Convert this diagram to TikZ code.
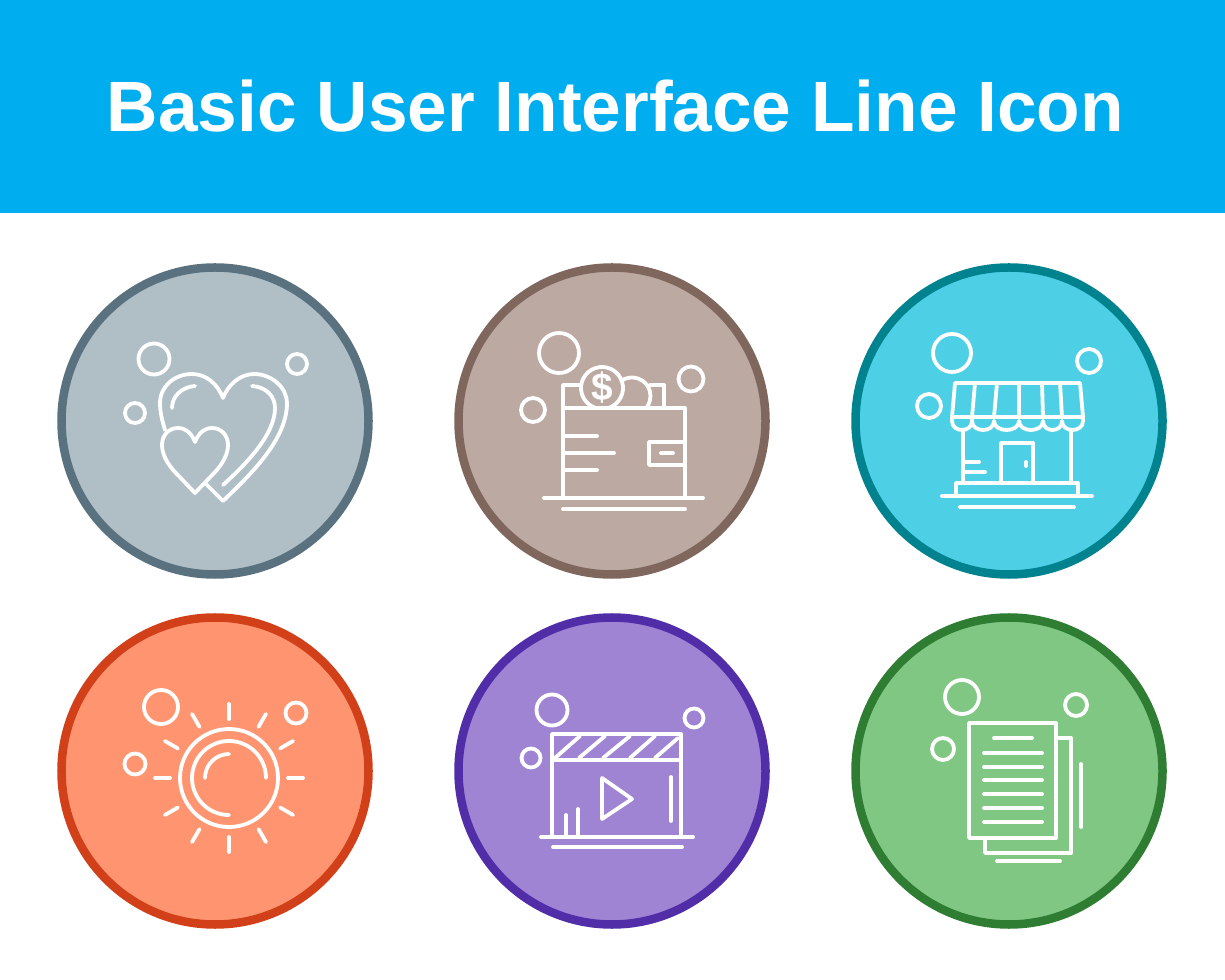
\documentclass[tikz,border=0pt]{standalone}
\usepackage{fontspec}
\setmainfont{Liberation Sans}
\usetikzlibrary{calc}
\definecolor{bandblue}{HTML}{00AEEF}
\tikzset{
	badge/.style={line width=0.085cm},
	iconline/.style={draw=white, line width=0.038cm, line cap=round, line join=round}
}
\def\ringarc(#1)(#2:#3:#4){\draw[iconline] ($(#1)+({#4*cos(#2)},{#4*sin(#2)})$) arc (#2:#3:#4);}
\begin{document}
\begin{tikzpicture}[x=0.01cm, y=-0.01cm]
		%%%%% BAND %%%%%
		\useasboundingbox (0, 0) rectangle (1225, 980);
		\fill[white] (0, 0) rectangle (1225, 980);
		\fill[bandblue] (0, 0) rectangle (1225, 213);
		\node[text=white, font=\fontsize{20.25pt}{24pt}\bfseries, inner sep=0pt] (title) at (615.5, 106) {Basic User Interface Line Icon};
		
		%%%%% BADGES %%%%%
		\foreach \cx/\cy/\fillcol/\edgecol in {215/421/B0BEC5/5A7280, 612/421/BBA9A2/80675D, 1009/421/4DD0E5/00838F, 215/771/FF9570/D2401A, 612/771/A084D4/512DA8, 1009/771/81C784/2E7D32}{
			\definecolor{fillnow}{HTML}{\fillcol}
			\definecolor{edgenow}{HTML}{\edgecol}
			\draw[badge, fill=fillnow, draw=edgenow] (\cx, \cy) circle (153.5);
		}
		
		%%%%% HEARTS %%%%%
		\begin{scope}[iconline]
		\draw (154, 359) circle (15.5);
		\draw (297, 364) circle (10);
		\draw (135, 413) circle (10);
		\draw (165, 430) .. controls (162, 420) and (160, 412) .. (160, 403) .. controls (160, 386) and (175, 374) .. (192, 374) .. controls (207, 374) and (218, 385) .. (223, 398) .. controls (228, 385) and (240, 374) .. (254, 374) .. controls (272, 374) and (287, 388) .. (287, 403) .. controls (287, 440) and (250, 475) .. (223, 501) -- (206, 484);
		\draw (252, 386) .. controls (266, 387) and (275, 396) .. (275, 408) .. controls (275, 435) and (245, 465) .. (223, 485);
		\draw (195, 386) .. controls (182, 387) and (172, 396) .. (172, 408);
		\draw (195, 493) -- (174, 471) .. controls (168, 464) and (162, 455) .. (162, 445) .. controls (162, 435) and (169, 428) .. (178, 428) .. controls (186, 428) and (192, 434) .. (195, 442) .. controls (198, 434) and (204, 428) .. (212, 428) .. controls (221, 428) and (228, 435) .. (228, 445) .. controls (228, 455) and (222, 464) .. (216, 471) -- cycle;
		\end{scope}
		
		%%%%% WALLET %%%%%
		\begin{scope}[iconline]
		\draw (559, 353) circle (20);
		\draw (691, 379) circle (12.5);
		\draw (533, 410) circle (12);
		\draw (563, 498) -- (563, 385) -- (580, 385);
		\draw (650, 385) -- (664, 385) -- (664, 407);
		\draw (563, 408) -- (685, 408) -- (685, 498);
		\draw (544, 498) -- (703, 498);
		\draw (563, 509) -- (685, 509);
		\draw (563, 436) -- (597, 436);
		\draw (563, 453) -- (614, 453);
		\draw (563, 470) -- (597, 470);
		\draw (685, 442) -- (649, 442) -- (649, 465) -- (685, 465);
		\draw (661, 453) -- (673, 453);
		\ringarc(602, 388)(72:-252:21)
		\ringarc(632, 396)(-125:35:18.5)
		\node[text=white, font=\fontsize{11pt}{11pt}\bfseries, inner sep=0pt] (dollar) at (602, 388) {\$};
		\end{scope}
		
		%%%%% SHOP %%%%%
		\begin{scope}[iconline]
		\draw (952, 353) circle (19);
		\draw (1089, 361) circle (12);
		\draw (929, 406) circle (12);
		\draw (955, 383) -- (1080, 383) -- (1083, 417) -- (952, 417) -- cycle;
		\draw (975, 383) -- (972, 417);
		\draw (997, 383) -- (994, 417);
		\draw (1019, 383) -- (1019, 417);
		\draw (1042, 383) -- (1043, 417);
		\draw (1060, 383) -- (1062, 417);
		\draw (952, 417) -- (952, 421) .. controls (952, 433) and (972, 433) .. (972, 421) -- (972, 417);
		\draw (972, 421) .. controls (972, 433) and (994, 433) .. (994, 421);
		\draw (994, 421) .. controls (994, 433) and (1019, 433) .. (1019, 421);
		\draw (1019, 421) .. controls (1019, 433) and (1043, 433) .. (1043, 421);
		\draw (1043, 421) .. controls (1043, 433) and (1062, 433) .. (1062, 421);
		\draw (1062, 421) .. controls (1062, 433) and (1083, 433) .. (1083, 421) -- (1083, 417);
		\draw (963, 431) -- (963, 483);
		\draw (1071, 431) -- (1071, 483);
		\draw (1001, 483) -- (1001, 443) -- (1033, 443) -- (1033, 483);
		\draw (1026, 462) -- (1026, 466);
		\draw (963, 462) -- (979, 462);
		\draw (963, 472) -- (985, 472);
		\draw (956, 496) -- (956, 483) -- (1078, 483) -- (1078, 496);
		\draw (942, 496) -- (1092, 496);
		\draw (960, 507) -- (1074, 507);
		\end{scope}
		
		%%%%% SUN %%%%%
		\begin{scope}[iconline]
		\draw (161, 707) circle (17);
		\draw (296, 713) circle (10.5);
		\draw (135, 764) circle (10.5);
		\coordinate (suncentre) at (229, 778);
		\draw (suncentre) circle (49);
		\ringarc(suncentre)(0:-270:37)
		\ringarc(suncentre)(-180:-90:24)
		\foreach \ang in {0, 30, ..., 330}{
			\draw ($(suncentre)+({59*cos(\ang)},{59*sin(\ang)})$) -- ($(suncentre)+({74*cos(\ang)},{74*sin(\ang)})$);
		}
		\end{scope}
		
		%%%%% CLAPPER %%%%%
		\begin{scope}[iconline]
		\draw (552, 710) circle (15.5);
		\draw (694, 718) circle (9.5);
		\draw (531, 758) circle (9.5);
		\draw (552, 837) -- (552, 734) -- (681, 734) -- (681, 837);
		\draw (552, 760) -- (681, 760);
		\draw (555, 758) -- (580, 736);
		\draw (579, 758) -- (605, 736);
		\draw (603, 758) -- (630, 736);
		\draw (630, 758) -- (655, 736);
		\draw (655, 758) -- (678, 738);
		\draw (602, 778) -- (632, 799) -- (602, 819) -- cycle;
		\draw (671, 777) -- (671, 821);
		\draw (566, 815) -- (566, 837);
		\draw (578, 809) -- (578, 837);
		\draw (541, 837) -- (693, 837);
		\draw (553, 847) -- (682, 847);
		\end{scope}
		
		%%%%% PAGES %%%%%
		\begin{scope}[iconline]
		\draw (962, 697) circle (17);
		\draw (1076, 705) circle (11);
		\draw (943, 749) circle (11);
		\draw (969, 723) rectangle (1056, 838);
		\draw (1056, 738) -- (1071, 738) -- (1071, 853) -- (985, 853) -- (985, 838);
		\draw (1081, 764) -- (1081, 827);
		\draw (997, 861) -- (1060, 861);
		\draw (994, 738) -- (1032, 738);
		\foreach \liney in {753, 767, 780, 794, 808, 822}{
			\draw (984, \liney) -- (1042, \liney);
		}
		\end{scope}
	\end{tikzpicture}
\end{document}
